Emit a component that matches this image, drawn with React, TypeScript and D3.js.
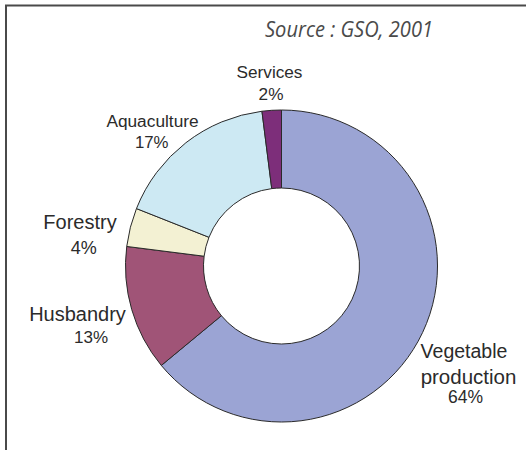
import React from "react";
import * as d3 from "d3";

const categories = ["Vegetable production", "Husbandry", "Forestry", "Aquaculture", "Services"];
const values = [64, 13, 4, 17, 2];
const colors = ["#9ba4d4", "#a05477", "#f3f1d3", "#cde9f3", "#7d2e7a"];
const labelLines = [
  ["Vegetable", "production", "64%"],
  ["Husbandry", "13%"],
  ["Forestry", "4%"],
  ["Aquaculture", "17%"],
  ["Services", "2%"],
];
const source = "Source : GSO, 2001";

const W = 526;
const H = 450;
const cx = 281.5;
const cy = 266;
const outerR = 156;
const innerR = 78;

// label layout: per line center x, baseline y, font size
const labelPos = [
  { x: [464, 468.5, 465.5], y: [358, 383.5, 403], fs: [19.5, 20.5, 17.5] },
  { x: [77.5, 91], y: [320.7, 342.7], fs: [20, 17] },
  { x: [80, 83.7], y: [229, 254], fs: [20, 18] },
  { x: [152.5, 151.7], y: [126.7, 148.3], fs: [17.3, 16.8] },
  { x: [269.5, 271], y: [77.7, 100], fs: [17.2, 17.2] },
];

export default function App() {
  const data = categories.map((c, i) => ({ c, v: values[i], i }));
  const pie = d3.pie<any>().value((d) => d.v).sort(null);
  const arcs = pie(data);
  const arc = d3.arc<any>().innerRadius(innerR).outerRadius(outerR);

  return (
    <svg
      width={W}
      height={H}
      style={{ position: "absolute", left: 0, top: 0, background: "#fff" }}
      fontFamily="'Liberation Sans', Arial, sans-serif"
    >
      <rect x={0} y={0} width={W} height={H} fill="#fff" />
      <path d={`M6,${H} V5.5 H${W}`} fill="none" stroke="#4a4a4a" strokeWidth={2} />
      <text
        x={349}
        y={37}
        textAnchor="middle"
        fontFamily="'Open Sans', 'Noto Sans', sans-serif"
        fontStyle="italic"
        fontSize={21}
        fill="#4a4a4a"
        textLength={168}
        lengthAdjust="spacingAndGlyphs"
      >
        {source}
      </text>
      <g transform={`translate(${cx},${cy})`}>
        {arcs.map((a, i) => (
          <path key={i} d={arc(a) as string} fill={colors[i]} stroke="#2a2a2a" strokeWidth={1} />
        ))}
      </g>
      {labelLines.map((lines, i) => (
        <g key={i}>
          {lines.map((t, j) => (
            <text
              key={j}
              x={labelPos[i].x[j]}
              y={labelPos[i].y[j]}
              textAnchor="middle"
              fontSize={labelPos[i].fs[j]}
              fill="#2b2b2b"
            >
              {t}
            </text>
          ))}
        </g>
      ))}
    </svg>
  );
}
